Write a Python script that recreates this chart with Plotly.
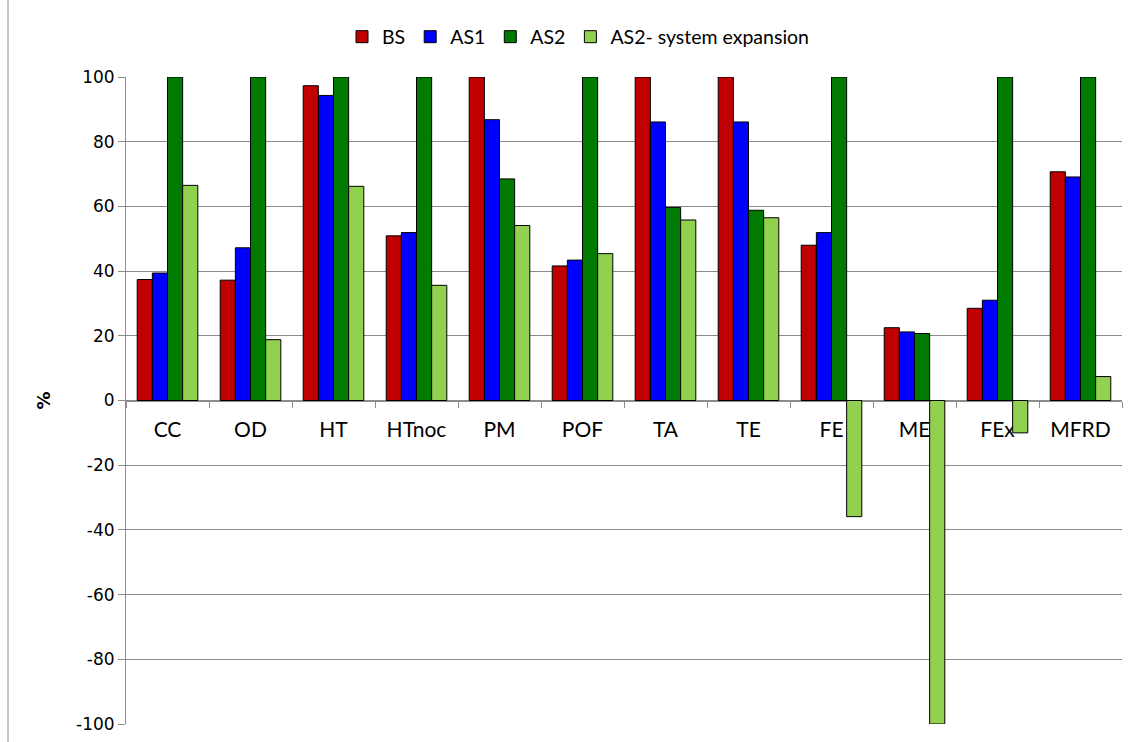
import plotly.graph_objects as go

categories = ["CC", "OD", "HT", "HTnoc", "PM", "POF", "TA", "TE", "FE", "ME", "FEx", "MFRD"]
bs = [37.4, 37.2, 97.3, 50.9, 100, 41.6, 100, 100, 48.0, 22.5, 28.5, 70.7]
as1 = [39.4, 47.2, 94.3, 51.9, 86.8, 43.4, 86.1, 86.1, 51.9, 21.2, 31.0, 69.1]
as2 = [100, 100, 100, 100, 68.5, 100, 59.7, 58.8, 100, 20.7, 100, 100]
as2_se = [66.5, 18.8, 66.2, 35.6, 54.1, 45.4, 55.8, 56.5, -35.9, -100, -10.0, 7.4]

y_tickvals = [-100, -80, -60, -40, -20, 0, 20, 40, 60, 80, 100]
y_ticktext = ["-100", "-80", "-60", "-40", "-20", "0", "20", "40", "60", "80", "100"]

series = [
    ("BS", bs, "#C00000"),
    ("AS1", as1, "#0000FF"),
    ("AS2", as2, "#007A00"),
    ("AS2- system expansion", as2_se, "#92D050"),
]

fig = go.Figure()
for name, vals, color in series:
    fig.add_trace(go.Bar(
        x=categories, y=vals, name=name,
        marker=dict(color=color, line=dict(color="#000000", width=1)),
    ))

W, H = 1131, 742
ml, mr, mt, mb = 126, 9, 77, 18
plot_w = W - ml - mr
plot_h = H - mt - mb

fig.update_layout(
    width=W, height=H,
    margin=dict(l=ml, r=mr, t=mt, b=mb, autoexpand=False),
    paper_bgcolor="white", plot_bgcolor="white",
    barmode="group", bargap=0.27, bargroupgap=0,
    font=dict(family="Lato, Carlito, sans-serif", size=20, color="#000000"),
    legend=dict(orientation="h", x=(578 - ml) / plot_w, xanchor="center",
                yref="container", y=1 - 37 / H, yanchor="middle",
                font=dict(size=19.5), traceorder="normal"),
    showlegend=True,
)

fig.update_xaxes(
    type="category", anchor="free", position=0.5,
    showline=True, linecolor="#8c8c8c", linewidth=1,
    ticks="outside", tickson="boundaries", ticklen=6, tickcolor="#8c8c8c",
    showgrid=False, layer="below traces",
    tickfont=dict(family="Lato, Carlito, sans-serif", size=21),
    ticklabelstandoff=10,
)
fig.update_yaxes(
    range=[-100, 100], tickvals=y_tickvals, ticktext=y_ticktext,
    showline=True, linecolor="#8c8c8c", linewidth=1,
    ticks="outside", ticklen=7, tickcolor="#8c8c8c",
    showgrid=True, gridcolor="#8c8c8c", gridwidth=1,
    zeroline=False,
    tickfont=dict(family="DejaVu Sans, sans-serif", size=17),
    title=dict(text="<b>%</b>", font=dict(family="DejaVu Sans, sans-serif", size=18), standoff=20),
)

# chart frame edge on the left
fig.add_shape(type="line", xref="paper", yref="paper",
              x0=(8 - ml) / plot_w, x1=(8 - ml) / plot_w,
              y0=-mb / plot_h, y1=(H - mb) / plot_h,
              line=dict(color="#8c8c8c", width=1))

fig.write_html("out.html")
